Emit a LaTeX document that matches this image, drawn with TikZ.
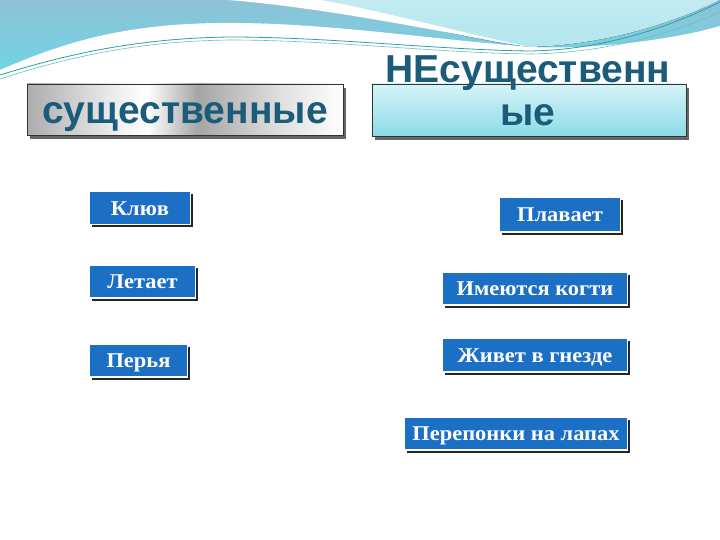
\documentclass[tikz,border=0pt]{standalone}
\usepackage{fontspec}
\setmainfont{Liberation Serif}
\newfontfamily\boxfont{Liberation Serif}[FakeStretch=1.07]
\newfontfamily\headfont{Liberation Sans}
\usepackage{tikz}
\usetikzlibrary{shadows}
\usepackage{xcolor}
\definecolor{headteal}{HTML}{1A5C7A}
\definecolor{boxblue}{HTML}{1B6FC5}
\definecolor{skytop}{HTML}{8DC2D7}
\definecolor{skylow}{HTML}{6DD7E4}
\definecolor{skylight}{HTML}{B3E6EE}
\definecolor{wavecol}{HTML}{2E9FA3}
\definecolor{glasstop}{HTML}{D6F4F8}
\definecolor{glasslow}{HTML}{8CDBE6}
\pgfdeclarehorizontalshading{metal}{100bp}{color(0bp)=(gray!65); color(25bp)=(gray!65); color(40bp)=(gray!10); color(44bp)=(white); color(52bp)=(gray!70); color(65bp)=(gray!25); color(75bp)=(white); color(100bp)=(white)}
\tikzstyle{featbox}=[draw=white,line width=1.6pt,fill=boxblue,text=white,
  font=\boxfont\bfseries\fontsize{21}{21}\selectfont,minimum height=33pt,inner sep=0pt,
  text height=14pt,text depth=0pt,
  drop shadow={shadow xshift=2pt,shadow yshift=-3pt,opacity=0.85,fill=black}]
\tikzstyle{headbox}=[draw=black!80,line width=0.8pt,minimum width=316pt,minimum height=51pt,inner sep=0pt,
  drop shadow={shadow xshift=3pt,shadow yshift=-4pt,opacity=0.6,fill=black}]
\tikzstyle{headtext}=[text=headteal,font=\headfont\bfseries\fontsize{39}{43}\selectfont]

\begin{document}
\begin{tikzpicture}[x=1pt,y=-1pt]
  \useasboundingbox (0,0) rectangle (720,540);

  % SKY
  \fill[top color=skytop,bottom color=skylow] (0,0) rectangle (720,80);
  \fill[top color=skylight!80!white,bottom color=skylight]
    (300,0) .. controls (400,20) and (470,40) .. (530,47)
    .. controls (610,45) and (680,20) .. (720,0) -- cycle;
  \fill[white] % STREAK
    (228,0) .. controls (330,8) and (450,34) .. (530,47)
    .. controls (450,30) and (360,6) .. (320,0) -- cycle;
  \fill[white] % LOWER WHITE
    (0,70) .. controls (60,44) and (120,24) .. (220,23)
    .. controls (320,22) and (420,38) .. (530,47)
    .. controls (600,50) and (680,38) .. (720,26) -- (720,540) -- (0,540) -- cycle;
  \draw[wavecol,line width=0.8pt]
    (0,75) .. controls (80,50) and (150,38) .. (230,37)
    .. controls (330,37) and (440,50) .. (530,51)
    .. controls (610,50) and (680,22) .. (720,2);
  \draw[wavecol!70,line width=0.6pt]
    (0,79) .. controls (80,53) and (150,41) .. (230,40)
    .. controls (330,40) and (440,53) .. (530,54)
    .. controls (615,53) and (685,28) .. (720,12);

  % HEADERS
  \node[headbox,shading=metal,headtext,text height=40pt,text depth=11pt]
    (esshead) at (185,109.5) {существенные};
  \node[headbox,top color=glasstop,bottom color=glasslow,minimum width=314pt,minimum height=52pt]
    (nebox) at (529,110) {};
  \node[headtext,align=center,inner sep=0pt] (netext) at (528,91) {НЕсущественн\\ые};

  % LEFT COLUMN
  \node[featbox,minimum width=101pt] (klyuv) at (140,208) {Клюв};
  \node[featbox,minimum width=106pt] (letaet) at (142.5,281.5) {Летает};
  \node[featbox,minimum width=98pt] (perya) at (138.5,360.5) {Перья};

  % RIGHT COLUMN
  \node[featbox,minimum width=121pt,minimum height=35pt] (plavaet) at (560,214.5) {Плавает};
  \node[featbox,minimum width=185pt] (kogti) at (535,288.5) {Имеются когти};
  \node[featbox,minimum width=185pt,minimum height=34pt] (gnezdo) at (535,355) {Живет в гнезде};
  \node[featbox,minimum width=223pt] (pereponki) at (516,433.5) {Перепонки на лапах};
\end{tikzpicture}
\end{document}
